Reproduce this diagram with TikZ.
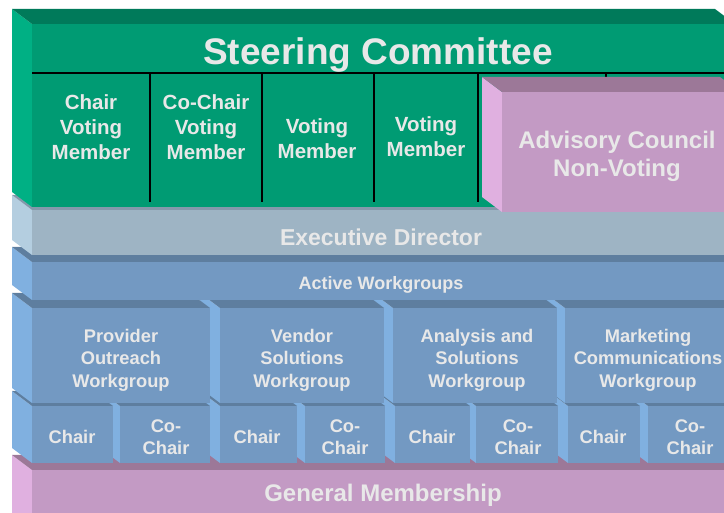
\documentclass[tikz,border=0pt]{standalone}
\usepackage{fontspec}
\setmainfont{Liberation Sans}
\definecolor{gF}{HTML}{009B73}
\definecolor{gT}{HTML}{007A5A}
\definecolor{gL}{HTML}{00B084}
\definecolor{eF}{HTML}{9EB4C4}
\definecolor{eT}{HTML}{8499AB}
\definecolor{eL}{HTML}{B4CEE0}
\definecolor{bF}{HTML}{7399C2}
\definecolor{bT}{HTML}{5E7E9F}
\definecolor{bL}{HTML}{80B0E0}
\definecolor{pF}{HTML}{C39AC4}
\definecolor{pT}{HTML}{9C7898}
\definecolor{pL}{HTML}{E0B0E0}
\definecolor{txt}{HTML}{E8E8E8}
% block: x1,y1 (front top-left), x2,y2 (front bottom-right), colour prefix
\newcommand\cubeblock[5]{%
  \fill[#5L] (#1,#2) -- ++(-20,-15) -- ++(0,{#4-#2}) -- (#1,#4) -- cycle;
  \fill[#5T] (#1,#2) -- ++(-20,-15) -- ++({#3-#1},0) -- (#3,#2) -- cycle;
  \fill[#5F] (#1,#2) rectangle (#3,#4);
}
\tikzset{
  lbl/.style={text=txt, align=center, inner sep=0pt, font=\bfseries},
  sz/.style 2 args={font=\bfseries\fontsize{#1}{#2}\selectfont},
  divider/.style={black, line width=1.5pt}
}
\begin{document}
\begin{tikzpicture}[x=1pt,y=-1pt]
\useasboundingbox (0,0) rectangle (724,513);
\clip (0,0) rectangle (724,513);
% general membership
\cubeblock{32}{470}{740}{530}{p}
% chair boxes (right to left)
\cubeblock{648}{406}{740}{463}{b}
\cubeblock{568}{406}{640}{463}{b}
\cubeblock{476}{406}{558}{463}{b}
\cubeblock{395}{406}{470}{463}{b}
\cubeblock{305}{406}{385}{463}{b}
\cubeblock{220}{406}{297}{463}{b}
\cubeblock{120}{406}{210}{463}{b}
\cubeblock{32}{406}{113}{463}{b}
% workgroup boxes (right to left)
\cubeblock{565}{308}{740}{403}{b}
\cubeblock{393}{308}{557}{403}{b}
\cubeblock{220}{308}{384}{403}{b}
\cubeblock{32}{308}{210}{403}{b}
% active workgroups
\cubeblock{32}{262}{740}{300}{b}
% executive director
\cubeblock{32}{210}{740}{255}{e}
% steering committee
\cubeblock{32}{24}{735}{207}{g}
\coordinate (hl) at (32,73);
\coordinate (hr) at (724,73);
\draw[divider] (hl) -- (hr);
\foreach \xx in {150,262,374,478,606}{
  \draw[divider] (\xx,73) -- (\xx,202);
}
% advisory council
\cubeblock{502}{92}{740}{212}{p}

% texts
\node[lbl, sz={37}{44}, anchor=base] (sc) at (378,65) {Steering Committee};
\node[lbl, sz={20.5}{25}] (m1) at (91,127) {Chair\\Voting\\Member};
\node[lbl, sz={20.5}{25}] (m2) at (206,127) {Co-Chair\\Voting\\Member};
\node[lbl, sz={20.5}{25}] (m3) at (317,139) {Voting\\Member};
\node[lbl, sz={20.5}{25}] (m4) at (426,137) {Voting\\Member};
\node[lbl, sz={24}{28}] (ac) at (617,156) {Advisory Council\\Non-Voting};
\node[lbl, sz={23}{28}] (ed) at (381,237) {Executive Director};
\node[lbl, sz={18}{22}] (aw) at (381,285) {Active Workgroups};
\node[lbl, sz={18.3}{22.5}] (w1) at (121,360) {Provider\\Outreach\\Workgroup};
\node[lbl, sz={18.3}{22.5}] (w2) at (302,360) {Vendor\\Solutions\\Workgroup};
\node[lbl, sz={18.3}{22.5}] (w3) at (477,360) {Analysis and\\Solutions\\Workgroup};
\node[lbl, sz={18.3}{22.5}] (w4) at (648,360) {Marketing\\Communications\\Workgroup};
\node[lbl, sz={18.3}{22}] (c1) at (72,437) {Chair};
\node[lbl, sz={18.3}{22}] (cc1) at (166,437) {Co-\\Chair};
\node[lbl, sz={18.3}{22}] (c2) at (257,437) {Chair};
\node[lbl, sz={18.3}{22}] (cc2) at (345,437) {Co-\\Chair};
\node[lbl, sz={18.3}{22}] (c3) at (432,437) {Chair};
\node[lbl, sz={18.3}{22}] (cc3) at (518,437) {Co-\\Chair};
\node[lbl, sz={18.3}{22}] (c4) at (603,437) {Chair};
\node[lbl, sz={18.3}{22}] (cc4) at (690,437) {Co-\\Chair};
\node[lbl, sz={24}{28}] (gm) at (383,495) {General Membership};
\end{tikzpicture}
\end{document}
